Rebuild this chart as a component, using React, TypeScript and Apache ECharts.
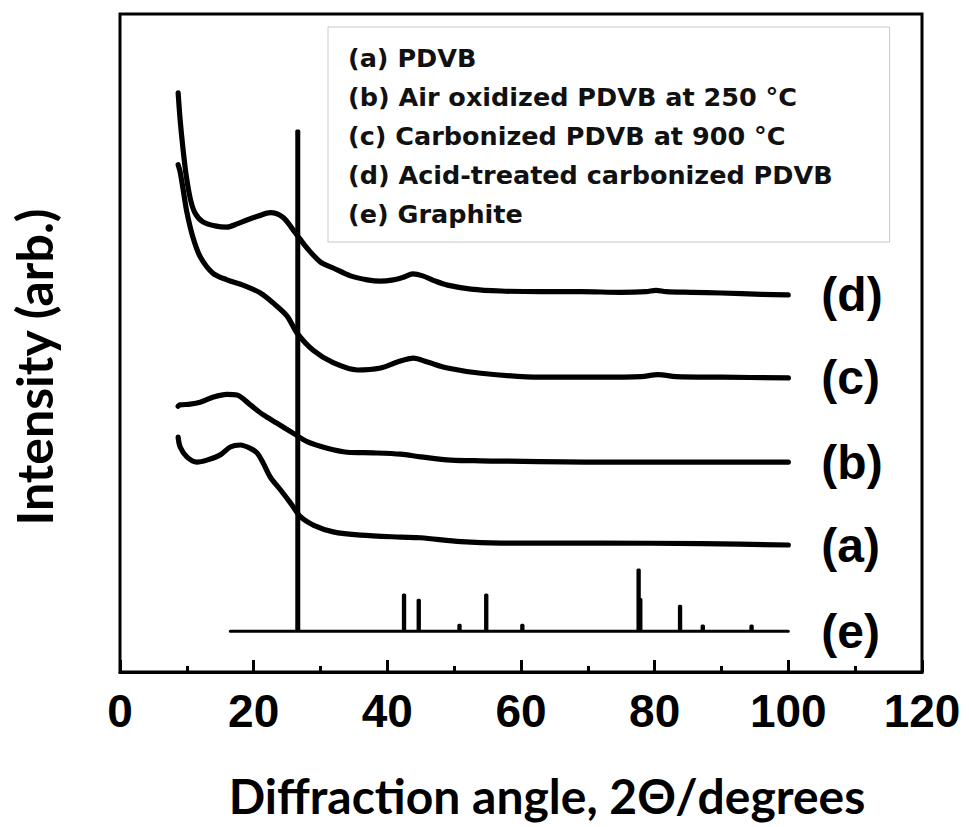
import React, { useEffect, useRef } from "react";
import * as echarts from "echarts";

// XRD patterns: [2θ (degrees), intensity (arb., offset for stacking)]
const pdvb: [number, number][] = [
  [8.7, 35.7], [9.0, 34.2], [10.0, 32.7], [11.5, 31.9], [13.0, 32.2], [15.0, 33.0],
  [16.5, 34.2], [18.0, 34.5], [19.5, 34.0], [20.5, 33.3], [21.4, 31.8], [22.5, 29.6],
  [24.0, 27.7], [25.5, 25.7], [27.0, 23.6], [29.0, 22.3], [31.9, 21.3], [36.0, 20.8],
  [42.0, 20.5], [45.0, 20.4], [51.0, 19.8], [57.0, 19.6], [72.0, 19.6], [87.0, 19.5],
  [100, 19.3],
];

const airOxidized: [number, number][] = [
  [8.7, 40.4], [9.0, 40.6], [10.5, 40.7], [12.0, 41.0], [14.0, 41.8], [16.0, 42.2],
  [17.5, 42.1], [19.5, 40.6], [21.4, 39.1], [23.5, 37.8], [25.9, 36.3], [28.0, 35.0],
  [31.0, 34.0], [34.0, 33.4], [37.9, 33.3], [42.0, 33.1], [45.0, 32.7], [49.5, 32.2],
  [54.0, 32.1], [72.0, 31.9], [87.0, 31.9], [100, 31.9],
];

const carbonized: [number, number][] = [
  [8.7, 77.1], [9.0, 76.0], [9.45, 73.3], [10.0, 69.9], [10.9, 66.1], [12.0, 63.1],
  [13.9, 60.6], [16.0, 59.6], [18.4, 58.8], [21.0, 57.6], [22.9, 56.1], [25.0, 54.1],
  [26.5, 51.5], [28.9, 48.9], [31.9, 47.0], [35.5, 45.9], [39.0, 46.2], [41.5, 47.1],
  [43.9, 47.7], [46.0, 47.1], [49.0, 46.2], [54.0, 45.4], [63.0, 44.8], [72.0, 44.8],
  [78.0, 44.9], [80.5, 45.2], [83.2, 44.9], [90.0, 44.8], [100, 44.7],
];

const acidTreated: [number, number][] = [
  [8.7, 88.0], [9.0, 83.9], [9.45, 79.3], [9.9, 75.5], [10.5, 72.0], [11.2, 69.8],
  [12.4, 68.4], [14.2, 67.8], [16.0, 67.6], [17.5, 68.1], [19.0, 68.7], [20.7, 69.3],
  [22.5, 69.8], [24.4, 69.1], [25.9, 67.2], [27.0, 65.7], [28.0, 64.4], [30.0, 62.3],
  [31.9, 61.4], [34.5, 60.2], [37.0, 59.6], [39.0, 59.4], [40.9, 59.6], [42.4, 60.0],
  [43.8, 60.5], [45.3, 60.2], [47.2, 59.4], [49.0, 58.8], [52.5, 58.2], [57.0, 57.9],
  [63.0, 57.8], [69.0, 57.8], [75.0, 57.7], [78.7, 57.8], [80.2, 58.0], [81.7, 57.8],
  [85.5, 57.7], [90.0, 57.6], [96.0, 57.4], [100, 57.3],
];

// Graphite reference pattern: baseline plus sharp reflections
const graphiteBase = 6.2;
const graphiteRange = [16.5, 100];
const graphitePeakPos = [26.6, 42.5, 44.7, 50.8, 54.8, 60.2, 77.6, 77.85, 83.8, 87.2, 94.5];
const graphitePeakHeight = [82.2, 11.7, 10.9, 7.1, 11.7, 7.1, 15.5, 11.0, 10.0, 7.0, 7.0];

const legendNames = [
  "(a) PDVB",
  "(b) Air oxidized PDVB at 250 °C",
  "(c) Carbonized PDVB at 900 °C",
  "(d) Acid-treated carbonized PDVB",
  "(e) Graphite",
];
const endTags = ["(a)", "(b)", "(c)", "(d)", "(e)"];

const xTitle = "Diffraction angle, 2Θ/degrees";
const yTitle = "Intensity (arb.)";

function graphiteTrace(): number[][] {
  const pts: number[][] = [[graphiteRange[0], graphiteBase]];
  graphitePeakPos.forEach((p, i) => {
    const hw = i === 0 ? 0.15 : 0.1;
    const h = graphitePeakHeight[i];
    pts.push([p - hw, graphiteBase], [p - hw, h], [p + hw, h], [p + hw, graphiteBase]);
  });
  pts.push([graphiteRange[1], graphiteBase]);
  return pts;
}

const tagFont = "'Liberation Sans', Arial, sans-serif";

function trace(name: string, data: number[][], tag: string, width: number, smooth: number | boolean) {
  return {
    type: "line",
    name,
    data,
    symbol: "none",
    showSymbol: false,
    smooth,
    silent: true,
    lineStyle: { color: "#000", width, join: "round", cap: "round" },
    itemStyle: { color: "#000" },
    endLabel: {
      show: true,
      formatter: tag,
      distance: 33,
      color: "#000",
      fontSize: 48,
      fontWeight: "bold",
      fontFamily: tagFont,
    },
  };
}

export default function App() {
  const ref = useRef<HTMLDivElement>(null);

  useEffect(() => {
    if (!ref.current) return;
    const chart = echarts.init(ref.current, undefined, { renderer: "svg" });
    chart.setOption({
      animation: false,
      backgroundColor: "#fff",
      grid: {
        left: 120,
        top: 14,
        width: 802,
        height: 658,
        show: true,
        borderColor: "#000",
        borderWidth: 3,
      },
      legend: {
        data: legendNames,
        orient: "vertical",
        left: 328,
        top: 27,
        itemWidth: 0,
        itemHeight: 0,
        itemGap: 13,
        icon: "rect",
        selectedMode: false,
        padding: [18, 57, 15, 15],
        backgroundColor: "#fff",
        borderColor: "#c8c8c8",
        borderWidth: 1,
        textStyle: {
          fontFamily: "'DejaVu Sans', sans-serif",
          fontWeight: "bold",
          fontSize: 25.5,
          lineHeight: 26,
          color: "#111",
        },
      },
      xAxis: {
        type: "value",
        min: 0,
        max: 120,
        interval: 20,
        axisLine: { show: true, lineStyle: { color: "#000", width: 3 } },
        axisTick: { show: true, inside: true, length: 12, lineStyle: { color: "#000", width: 3 } },
        minorTick: { show: true, splitNumber: 2, length: 6, lineStyle: { color: "#000", width: 3 } },
        splitLine: { show: false },
        minorSplitLine: { show: false },
        axisLabel: {
          margin: 16,
          color: "#000",
          fontSize: 46,
          fontWeight: "bold",
          fontFamily: tagFont,
        },
      },
      yAxis: {
        type: "value",
        min: 0,
        max: 100,
        axisLine: { show: false },
        axisTick: { show: false },
        axisLabel: { show: false },
        splitLine: { show: false },
      },
      graphic: [
        {
          type: "text",
          x: 547,
          y: 795,
          silent: true,
          style: {
            text: xTitle,
            fontFamily: "Lato, 'Open Sans', sans-serif",
            fontWeight: "bold",
            fontSize: 48,
            fill: "#000",
            align: "center",
            verticalAlign: "middle",
          },
        },
        {
          type: "text",
          x: 34,
          y: 367,
          rotation: Math.PI / 2,
          silent: true,
          style: {
            text: yTitle,
            fontFamily: "Lato, 'Open Sans', sans-serif",
            fontWeight: "bold",
            fontSize: 50,
            fill: "#000",
            align: "center",
            verticalAlign: "middle",
          },
        },
      ],
      series: [
        trace(legendNames[0], pdvb, endTags[0], 5.2, 0.3),
        trace(legendNames[1], airOxidized, endTags[1], 5.2, 0.3),
        trace(legendNames[2], carbonized, endTags[2], 5.2, 0.3),
        trace(legendNames[3], acidTreated, endTags[3], 5.2, 0.3),
        trace(legendNames[4], graphiteTrace(), endTags[4], 3, false),
      ],
    });
    return () => chart.dispose();
  }, []);

  return (
    <div
      ref={ref}
      style={{ position: "fixed", left: 0, top: 0, width: 969, height: 827, background: "#fff" }}
    />
  );
}
